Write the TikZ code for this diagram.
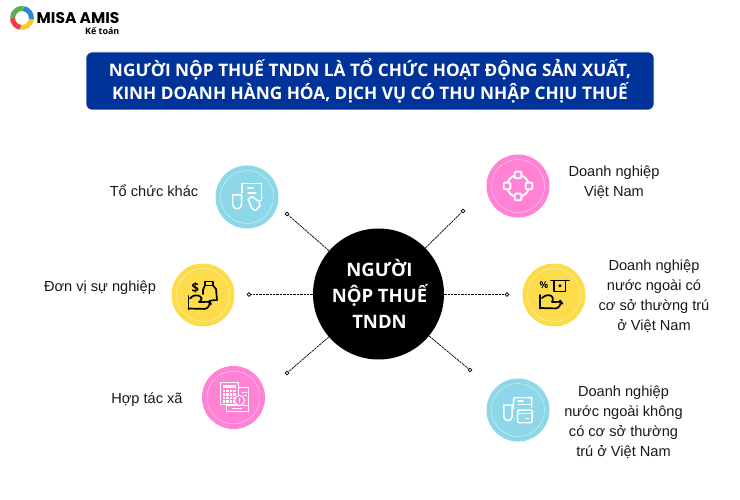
\documentclass[tikz,border=0pt]{standalone}
\usepackage{fontspec}
\setmainfont{Liberation Sans}
\newfontfamily\headfont{Open Sans}
\newfontfamily\brandfont{Poppins}
\usetikzlibrary{calc}
\definecolor{navy}{RGB}{0,51,153}
\definecolor{skyb}{RGB}{140,216,232}
\definecolor{sunny}{RGB}{253,220,75}
\definecolor{pinky}{RGB}{255,130,212}
\definecolor{lgreen}{RGB}{90,175,80}
\definecolor{lblue}{RGB}{45,135,215}
\definecolor{lyellow}{RGB}{250,200,40}
\definecolor{lred}{RGB}{232,65,70}
\tikzset{
  disc/.style={circle,minimum size=63pt,inner sep=0pt,fill=#1},
  ringline/.style={draw=white,opacity=.65,line width=.4pt},
  ico/.style={draw=white,line width=1.5pt,line join=round,line cap=round,fill=none},
  icod/.style={draw=black,line width=1.7pt,line join=round,line cap=round,fill=none},
  lab/.style={font=\fontsize{14.6}{20}\selectfont,align=center,text=black!90,inner sep=0pt},
  hub/.style={circle,fill=black,minimum size=131pt,inner sep=0pt},
  enddot/.style={circle,draw=black,fill=white,line width=.7pt,minimum size=3.8pt,inner sep=0pt},
  linkh/.style={draw=black,line width=.7pt,dash pattern=on 2.4pt off 1pt},
  linkd/.style={draw=black,line width=.7pt,dash pattern=on 2.6pt off .7pt},
  swirl/.style={line width=5pt,line cap=butt}
}
\begin{document}
\begin{tikzpicture}[x=1pt,y=-1pt]
\useasboundingbox[fill=white] (0,0) rectangle (740,500);
% logo
\begin{scope}[shift={(22,18)}]
  \draw[swirl,lgreen] (-9.5,0) arc[start angle=180,end angle=280,radius=9.5];
  \draw[swirl,lblue] (1.6,-9.4) arc[start angle=280,end angle=370,radius=9.5];
  \draw[swirl,lyellow] (9.4,1.6) arc[start angle=10,end angle=100,radius=9.5];
  \draw[swirl,lred] (-1.6,9.4) arc[start angle=100,end angle=180,radius=9.5];
\end{scope}
\node[anchor=west,inner sep=0pt,font=\brandfont\bfseries\fontsize{15.5}{18}\selectfont] (brand) at (36.5,18) {MISA AMIS};
\node[anchor=east,inner sep=0pt,font=\headfont\bfseries\fontsize{8.9}{10}\selectfont] (sub) at (119.5,31) {Kế toán};
% header
\node[draw=white,line width=.6pt,fill=navy,rounded corners=6pt,minimum width=568pt,minimum height=58pt,inner sep=0pt,text=white,align=center,font=\headfont\bfseries\fontsize{17.25}{23.4}\selectfont] (title) at (370,81)
 {NGƯỜI NỘP THUẾ TNDN LÀ TỔ CHỨC HOẠT ĐỘNG SẢN XUẤT,\\KINH DOANH HÀNG HÓA, DỊCH VỤ CÓ THU NHẬP CHỊU THUẾ};
% hub and endpoints
\node[hub] (hub) at (378.5,294) {};
\node[enddot] (e1) at (287,214) {};
\node[enddot] (e2) at (249,294.5) {};
\node[enddot] (e3) at (287,373) {};
\node[enddot] (e4) at (463,211) {};
\node[enddot] (e5) at (507,294.5) {};
\node[enddot] (e6) at (470,370) {};
\draw[linkd] (hub) -- (e1);
\draw[linkh] (hub.west |- e2) -- (e2);
\draw[linkd] (hub) -- (e3);
\draw[linkd] (hub) -- (e4);
\draw[linkh] (hub.east |- e5) -- (e5);
\draw[linkd] (hub) -- (e6);
\node[text=white,align=center,inner sep=0pt,font=\headfont\bfseries\fontsize{18.5}{26}\selectfont] (hubtext) at (379.5,293.5) {NGƯỜI\\NỘP THUẾ\\TNDN};
% discs
\node[disc=skyb] (c1) at (247,197) {};
\node[disc=sunny] (c2) at (203,295) {};
\node[disc=pinky] (c3) at (233.5,397.5) {};
\node[disc=pinky] (c4) at (518,186) {};
\node[disc=sunny] (c5) at (554,295) {};
\node[disc=skyb] (c6) at (518,410) {};
\foreach \n in {c1,c2,c3,c4,c5,c6} \draw[ringline] (\n) circle (26.5);
% icon c1
\begin{scope}[shift={(c1)}]
  \draw[ico] (-5,-4) -- (-5,-13.5) -- (14.7,-13.5) -- (14.7,3.5) -- (12,3.5);
  \draw[ico] (-9,-2) -- (-5.5,-2) -- (-5.5,7.5) arc[start angle=0,end angle=180,radius=4.4] -- (-14.3,-2) -- cycle;
  \draw[ico] (1,-9) -- (6,-9) (1,-4) -- (9,-4);
  \draw[ico] (1,2) -- (5,-0.5) -- (12,4.5) -- (13,9) -- (8.5,13.5) -- (5,11.5) -- cycle;
\end{scope}
% icon c2
\begin{scope}[shift={(c2)}]
  \node[inner sep=0pt,font=\headfont\bfseries\fontsize{13}{13}\selectfont] (dollar) at (-7.6,-7.5) {\$};
  \draw[icod] (2,-13.5) rectangle (10,-9.5);
  \draw[icod] (2,-9.5) -- (1,-7.5) -- (0,-5) -- (0,-1);
  \draw[icod] (10,-9.5) -- (13,-6) -- (14,5) -- (8,5.5);
  \draw[icod] (-14.5,1) -- (-14.5,14.5);
  \draw[icod,rounded corners=2.5pt] (-14.5,13.5) -- (4,14) -- (7.5,8) -- (7,6.8) -- (-4,7) (-13,3.5) -- (-9,0) -- (-2,1) -- (-1,5) -- (-4,7);
\end{scope}
% icon c3
\begin{scope}[shift={(c3)}]
  \draw[white,line width=.8pt] (-7,8) rectangle (14.5,14);
  \draw[white,line width=.8pt] (5,-10.5) -- (14.5,-10.5) -- (14.5,14) (-7,8) -- (-7,13.5);
  \draw[white,line width=.8pt] (-2,11) -- (8,11);
  \filldraw[draw=white,fill=pinky,line width=.9pt] (-13,-15) rectangle (5,7);
  \fill[white] (-10.5,-12.5) rectangle (2.5,-9.5);
  \foreach \i in {0,1,2,3} \foreach \j in {0,1,2,3} \fill[white] ({-10.5+\i*3.4},{-7.5+\j*3.4}) rectangle +(2.3,2.3);
  \filldraw[draw=white,fill=pinky,line width=1pt] (6,3) circle (5);
  \draw[white,line width=.9pt] (6,0.5) -- (6,5.5);
  \draw[white,line width=.5pt] (8,-5) -- (13,-5) (10,-2) -- (13,-2);
\end{scope}
% icon c4
\begin{scope}[shift={(c4)}]
  \draw[ico,line width=1.9pt] (0,0) circle (11);
  \foreach \x/\y in {0/-11,0/11,-11/0,11/0}
    \filldraw[draw=white,fill=pinky,line width=1.9pt,rounded corners=1pt] ({\x-3.3},{\y-3.3}) rectangle ({\x+3.3},{\y+3.3});
\end{scope}
% icon c5
\begin{scope}[shift={(c5)}]
  \node[inner sep=0pt,font=\headfont\bfseries\fontsize{9.5}{10}\selectfont] (pct) at (-10,-10) {\%};
  \draw[icod] (-3,-14.5) -- (15,-14.5);
  \draw[icod] (0,-14.5) -- (0,-3.5) -- (11.5,-3.5) -- (11.5,-14.5);
  \fill[black] (5.9,-9.2) circle (1.7);
  \draw[icod] (-14,0) -- (-14,13.5);
  \draw[icod,rounded corners=2.5pt] (-14,13) -- (4,13.5) -- (7.5,7.5) -- (7,6.8) -- (-2,7) (-12,3) -- (-8,0) -- (-2,0.5) -- (-0.5,5) -- (-2,7);
\end{scope}
% icon c6
\begin{scope}[shift={(c6)}]
  \draw[ico] (-5,-1) -- (-4,-12.5) -- (13.5,-12.5) -- (13.5,-3);
  \draw[ico] (-9,-5) -- (-5.8,-5) -- (-5.8,6.5) arc[start angle=0,end angle=180,radius=4.2] -- (-14,-5) -- cycle;
  \draw[ico] (0,-9) -- (5,-9) (0,-5.5) -- (13,-5.5);
  \draw[ico,rounded corners=1pt] (-.5,0) rectangle (14,12.5);
  \draw[ico] (-.5,3.5) -- (14,3.5);
  \draw[white,line width=1.4pt] (7,8.5) -- (11,8.5);
\end{scope}
% labels
\node[lab] (t1) at (154,191) {Tổ chức khác};
\node[lab] (t2) at (100,288) {Đơn vị sự nghiệp};
\node[lab] (t3) at (147,400) {Hợp tác xã};
\node[lab] (t4) at (614,182.5) {Doanh nghiệp\\Việt Nam};
\node[lab] (t5) at (654,296.5) {Doanh nghiệp\\nước ngoài có\\cơ sở thường trú\\ở Việt Nam};
\node[lab] (t6) at (623.5,422.5) {Doanh nghiệp\\nước ngoài không\\có cơ sở thường\\trú ở Việt Nam};
\end{tikzpicture}
\end{document}
